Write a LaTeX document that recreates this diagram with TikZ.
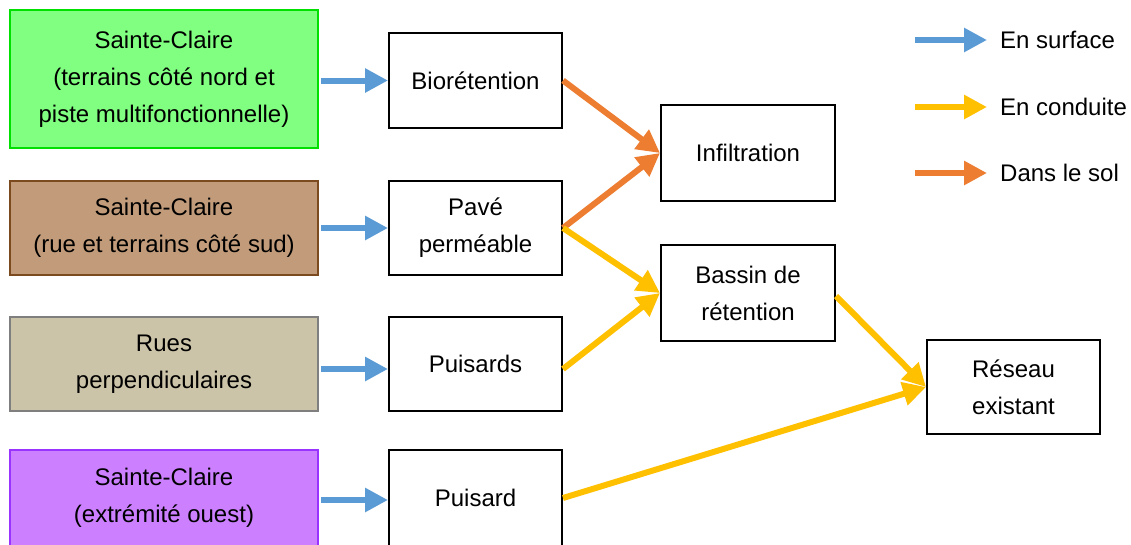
\documentclass[tikz,border=0pt]{standalone}
\usepackage{fontspec}
\setmainfont{Liberation Sans}
\usetikzlibrary{arrows.meta}
\definecolor{srcgreen}{HTML}{80FF80}
\definecolor{srcgreenline}{HTML}{00E000}
\definecolor{srcbrown}{HTML}{C29C7A}
\definecolor{srcbrownline}{HTML}{7B4A1E}
\definecolor{srctan}{HTML}{CCC4A8}
\definecolor{srctanline}{HTML}{7F7F7F}
\definecolor{srcpurple}{HTML}{CC80FF}
\definecolor{srcpurpleline}{HTML}{9933FF}
\definecolor{flowblue}{HTML}{5B9BD5}
\definecolor{flowyellow}{HTML}{FFC000}
\definecolor{floworange}{HTML}{ED7D31}
\tikzset{
  lbl/.style={font=\fontsize{24}{37}\selectfont, align=center, inner sep=0pt},
  srcbox/.style={lbl, draw, line width=2pt, minimum width=308pt, minimum height=94pt},
  procbox/.style={lbl, draw=black, line width=2pt, fill=white, minimum width=173pt, minimum height=94pt},
  flow/.style={line width=6pt, -{Triangle[length=23pt,width=23pt]}},
  surface/.style={flow, flowblue},
  conduit/.style={flow, flowyellow},
  soil/.style={flow, floworange},
}
\begin{document}
\begin{tikzpicture}[x=1pt, y=-1pt]
\useasboundingbox (0,0) rectangle (1131,544);
\clip (0,0) rectangle (1131,544);
\fill[white] (0,0) rectangle (1131,544);

% Source areas
\node[srcbox, fill=srcgreen, draw=srcgreenline, minimum height=138pt] (s1) at (164,79)
  {Sainte-Claire\\(terrains côté nord et\\piste multifonctionnelle)};
\node[srcbox, fill=srcbrown, draw=srcbrownline] (s2) at (164,228)
  {Sainte-Claire\\(rue et terrains côté sud)};
\node[srcbox, fill=srctan, draw=srctanline] (s3) at (164,364)
  {Rues\\perpendiculaires};
\node[srcbox, fill=srcpurple, draw=srcpurpleline, minimum height=96pt] (s4) at (164,498)
  {Sainte-Claire\\(extrémité ouest)};

% Management devices
\node[procbox, minimum height=95pt] (bio) at (475.5,80.5) {Biorétention};
\node[procbox] (pave) at (475.5,228) {Pavé\\perméable};
\node[procbox] (puis) at (475.5,364) {Puisards};
\node[procbox, minimum height=96pt] (puis1) at (475.5,498) {Puisard};

% Outlets
\node[procbox, minimum width=174pt, minimum height=96pt] (infil) at (748,153) {Infiltration};
\node[procbox, minimum width=174pt, minimum height=96pt] (bassin) at (748,293) {Bassin de\\rétention};
\node[procbox] (reseau) at (1013.5,387) {Réseau\\existant};

% Surface runoff (yshift is in page units: negative moves down)
\draw[surface] ([xshift=2pt,yshift=-1.5pt]s1.east) -- (bio.west);
\draw[surface] ([xshift=2pt]s2.east) -- (pave.west);
\draw[surface] ([xshift=2pt,yshift=-5pt]s3.east) -- ([yshift=-5pt]puis.west);
\draw[surface] ([xshift=2pt,yshift=-2pt]s4.east) -- ([yshift=-2pt]puis1.west);

% Flow through the soil
\draw[soil] (bio.east) -- (infil.west);
\draw[soil] (pave.east) -- (infil.west);

% Piped flow
\draw[conduit] (pave.east) -- (bassin.west);
\draw[conduit] ([yshift=-5pt]puis.east) -- (bassin.west);
\draw[conduit] ([yshift=-3pt]bassin.east) -- (reseau.west);
\draw[conduit] (puis1.east) -- (reseau.west);

% Legend
\coordinate (la1) at (915,40);  \coordinate (lb1) at (987,40);
\coordinate (la2) at (915,107); \coordinate (lb2) at (987,107);
\coordinate (la3) at (915,173); \coordinate (lb3) at (987,173);
\draw[surface] (la1) -- (lb1);
\draw[conduit] (la2) -- (lb2);
\draw[soil] (la3) -- (lb3);
\node[lbl, anchor=west] (t1) at (1000,40) {En surface};
\node[lbl, anchor=west] (t2) at (1000,107) {En conduite};
\node[lbl, anchor=west] (t3) at (1000,173) {Dans le sol};
\end{tikzpicture}
\end{document}
